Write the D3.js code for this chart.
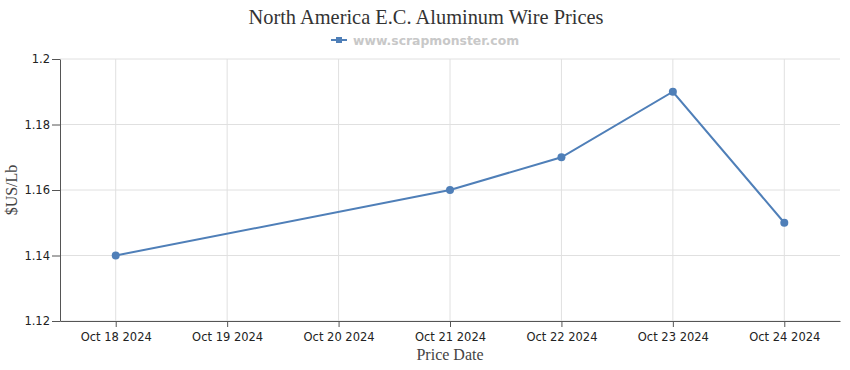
<!DOCTYPE html>
<html><head><meta charset="utf-8">
<script src="https://cdn.jsdelivr.net/npm/d3@7"></script>
<style>body{margin:0;background:#fff;} svg{display:block;}</style>
</head><body>
<svg id="c" width="850" height="370"></svg>
<script>
const dates = ["2024-10-18","2024-10-21","2024-10-22","2024-10-23","2024-10-24"];
const prices = [1.14, 1.16, 1.17, 1.19, 1.15];
const yTicks = [1.12, 1.14, 1.16, 1.18, 1.2];
const xTickDates = ["2024-10-18","2024-10-19","2024-10-20","2024-10-21","2024-10-22","2024-10-23","2024-10-24"];
const title = "North America E.C. Aluminum Wire Prices";
const legendText = "www.scrapmonster.com";

const parse = d3.timeParse("%Y-%m-%d");
const fmt = d3.timeFormat("%b %d %Y");
const data = dates.map((d,i)=>({date:parse(d), v:prices[i]}));
const color = "#4f7fb8";
const svg = d3.select("#c");
const m = {l:60, r:10, t:59, b:49};
const W = 850, H = 370;
const x0 = parse(xTickDates[0]), x1 = parse(xTickDates[xTickDates.length-1]);
const half = 12*3600*1000;
const x = d3.scaleTime().domain([new Date(+x0-half), new Date(+x1+half)]).range([m.l, W-m.r]);
const y = d3.scaleLinear().domain([1.12, 1.2]).range([H-m.b, m.t]);

// grid
svg.append("g").selectAll("line").data(yTicks).join("line")
  .attr("x1", m.l).attr("x2", W-m.r).attr("y1", d=>y(d)).attr("y2", d=>y(d))
  .attr("stroke", "#e0e0e0");
svg.append("g").selectAll("line").data(xTickDates.map(parse)).join("line")
  .attr("x1", d=>x(d)).attr("x2", d=>x(d)).attr("y1", m.t).attr("y2", H-m.b)
  .attr("stroke", "#e0e0e0");

const tickFont = "'DejaVu Sans', Verdana, sans-serif";
const yAxis = svg.append("g").attr("transform", `translate(${m.l},0)`)
  .call(d3.axisLeft(y).tickValues(yTicks).tickFormat(d=>String(+d.toFixed(2))).tickSize(8).tickSizeOuter(0));
const xAxis = svg.append("g").attr("transform", `translate(0,${H-m.b})`)
  .call(d3.axisBottom(x).tickValues(xTickDates.map(parse)).tickFormat(fmt).tickSize(6).tickSizeOuter(0));
[yAxis, xAxis].forEach(a=>{
  a.select(".domain").attr("stroke", "#555");
  a.selectAll(".tick line").attr("stroke", "#555");
  a.selectAll("text").attr("fill", "#222").style("font-family", tickFont).style("font-size", "11.5px");
});
yAxis.selectAll("text").attr("x", -10);
xAxis.selectAll("text").attr("y", 20).attr("dy", 0);

// line
svg.append("path").datum(data)
  .attr("fill", "none").attr("stroke", color).attr("stroke-width", 2)
  .attr("d", d3.line().x(d=>x(d.date)).y(d=>y(d.v)));
svg.append("g").selectAll("circle").data(data).join("circle")
  .attr("cx", d=>x(d.date)).attr("cy", d=>y(d.v)).attr("r", 4).attr("fill", color);

// title
svg.append("text").attr("x", 426).attr("y", 24).attr("text-anchor", "middle")
  .style("font-family", "'Liberation Serif', 'Times New Roman', serif").style("font-size", "20.4px")
  .attr("fill", "#333").text(title);
// legend
const lg = svg.append("g");
lg.append("line").attr("x1", 331).attr("x2", 347).attr("y1", 40).attr("y2", 40).attr("stroke", color).attr("stroke-width", 2);
lg.append("rect").attr("x", 336).attr("y", 37).attr("width", 6).attr("height", 6).attr("fill", color);
lg.append("text").attr("x", 353).attr("y", 44.5)
  .style("font-family", "'DejaVu Sans', Verdana, sans-serif").style("font-size", "12.4px").style("font-weight", "bold")
  .attr("fill", "#c8c8c8").text(legendText);

// axis titles
svg.append("text").attr("x", (m.l + W - m.r)/2).attr("y", 360).attr("text-anchor", "middle")
  .style("font-family", "'Liberation Serif', 'Times New Roman', serif").style("font-size", "16px")
  .attr("fill", "#444").text("Price Date");
svg.append("text").attr("transform", `translate(17,${(m.t + H - m.b)/2}) rotate(-90)`).attr("text-anchor", "middle")
  .style("font-family", "'Liberation Serif', 'Times New Roman', serif").style("font-size", "16px")
  .attr("fill", "#444").text("$US/Lb");
</script>
</body></html>
